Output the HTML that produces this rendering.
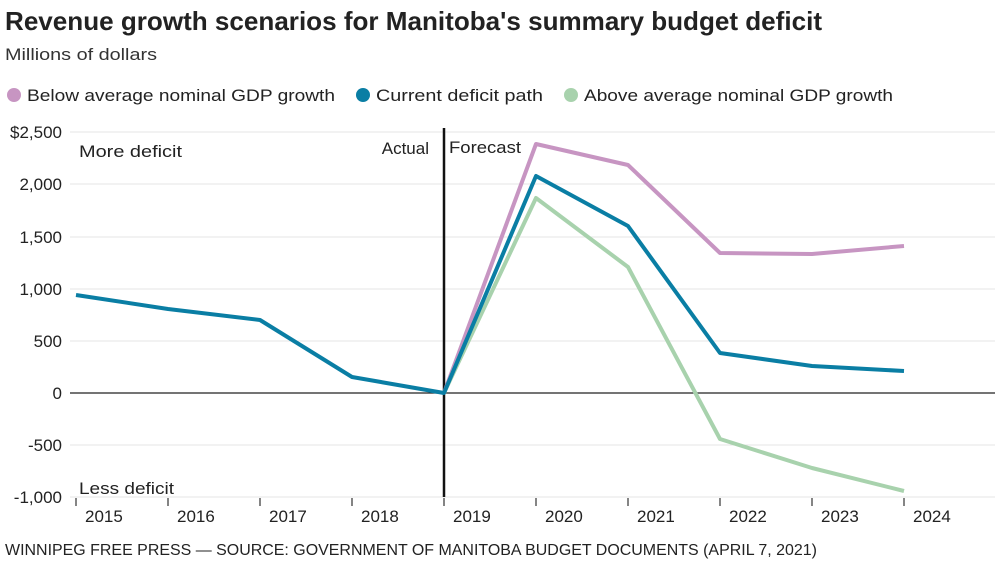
<!DOCTYPE html><html><head><style>body{margin:0;background:#fff;width:1000px;height:561px;overflow:hidden;font-family:"Liberation Sans",sans-serif}</style></head><body>
<svg width="1000" height="561" xmlns="http://www.w3.org/2000/svg" font-family="Liberation Sans, sans-serif">
<text x="5" y="30" font-size="26" font-weight="bold" fill="#222" textLength="817" lengthAdjust="spacingAndGlyphs">Revenue growth scenarios for Manitoba's summary budget deficit</text>
<text x="5" y="60" font-size="17" fill="#333" textLength="152" lengthAdjust="spacingAndGlyphs">Millions of dollars</text>
<circle cx="14" cy="95" r="7" fill="#c795c2"/><text x="27" y="101" font-size="17" fill="#222" textLength="308" lengthAdjust="spacingAndGlyphs">Below average nominal GDP growth</text>
<circle cx="363" cy="95" r="7" fill="#0a7ea4"/><text x="376" y="101" font-size="17" fill="#222" textLength="167" lengthAdjust="spacingAndGlyphs">Current deficit path</text>
<circle cx="571" cy="95" r="7" fill="#a8d2ad"/><text x="584" y="101" font-size="17" fill="#222" textLength="309" lengthAdjust="spacingAndGlyphs">Above average nominal GDP growth</text>
<g stroke="#e6e6e6" stroke-width="1">
<line x1="70" x2="995" y1="132" y2="132"/><line x1="70" x2="995" y1="184" y2="184"/><line x1="70" x2="995" y1="237" y2="237"/><line x1="70" x2="995" y1="289" y2="289"/><line x1="70" x2="995" y1="341" y2="341"/><line x1="70" x2="995" y1="445" y2="445"/><line x1="70" x2="995" y1="497" y2="497"/></g>
<g font-size="17" fill="#222" text-anchor="end">
<text x="62" y="138">$2,500</text><text x="62" y="190">2,000</text><text x="62" y="243">1,500</text><text x="62" y="295">1,000</text><text x="62" y="347">500</text><text x="62" y="399">0</text><text x="62" y="451">-500</text><text x="62" y="503">-1,000</text></g>
<line x1="70" x2="995" y1="393" y2="393" stroke="#222" stroke-width="1.2"/>
<line x1="444" x2="444" y1="128" y2="497" stroke="#111" stroke-width="2.5"/>
<g font-size="17" fill="#222">
<text x="79" y="157" textLength="103" lengthAdjust="spacingAndGlyphs">More deficit</text><text x="79" y="494" textLength="95" lengthAdjust="spacingAndGlyphs">Less deficit</text>
<text x="429" y="154" text-anchor="end">Actual</text><text x="449" y="153" textLength="72" lengthAdjust="spacingAndGlyphs">Forecast</text></g>
<g stroke="#333" stroke-width="1.2">
<line x1="76" x2="76" y1="498" y2="506"/><line x1="168" x2="168" y1="498" y2="506"/><line x1="260" x2="260" y1="498" y2="506"/><line x1="352" x2="352" y1="498" y2="506"/><line x1="444" x2="444" y1="498" y2="506"/><line x1="536" x2="536" y1="498" y2="506"/><line x1="628" x2="628" y1="498" y2="506"/><line x1="720" x2="720" y1="498" y2="506"/><line x1="812" x2="812" y1="498" y2="506"/><line x1="904" x2="904" y1="498" y2="506"/></g>
<g font-size="17" fill="#222">
<text x="85" y="522">2015</text><text x="177" y="522">2016</text><text x="269" y="522">2017</text><text x="361" y="522">2018</text><text x="453" y="522">2019</text><text x="545" y="522">2020</text><text x="637" y="522">2021</text><text x="729" y="522">2022</text><text x="821" y="522">2023</text><text x="913" y="522">2024</text></g>
<g fill="none" stroke-width="4" stroke-linejoin="round">
<polyline stroke="#c795c2" points="444,393 536,144 628,165 720,253 812,254 904,246"/>
<polyline stroke="#a8d2ad" points="444,393 536,198 628,267 720,439 812,468 904,491"/>
<polyline stroke="#0a7ea4" points="76,295 168,309 260,320 352,377 444,393 536,176 628,226 720,353 812,366 904,371"/>
</g>
<text x="5" y="555" font-size="15.5" fill="#222" textLength="812" lengthAdjust="spacingAndGlyphs">WINNIPEG FREE PRESS — SOURCE: GOVERNMENT OF MANITOBA BUDGET DOCUMENTS (APRIL 7, 2021)</text>
</svg></body></html>
